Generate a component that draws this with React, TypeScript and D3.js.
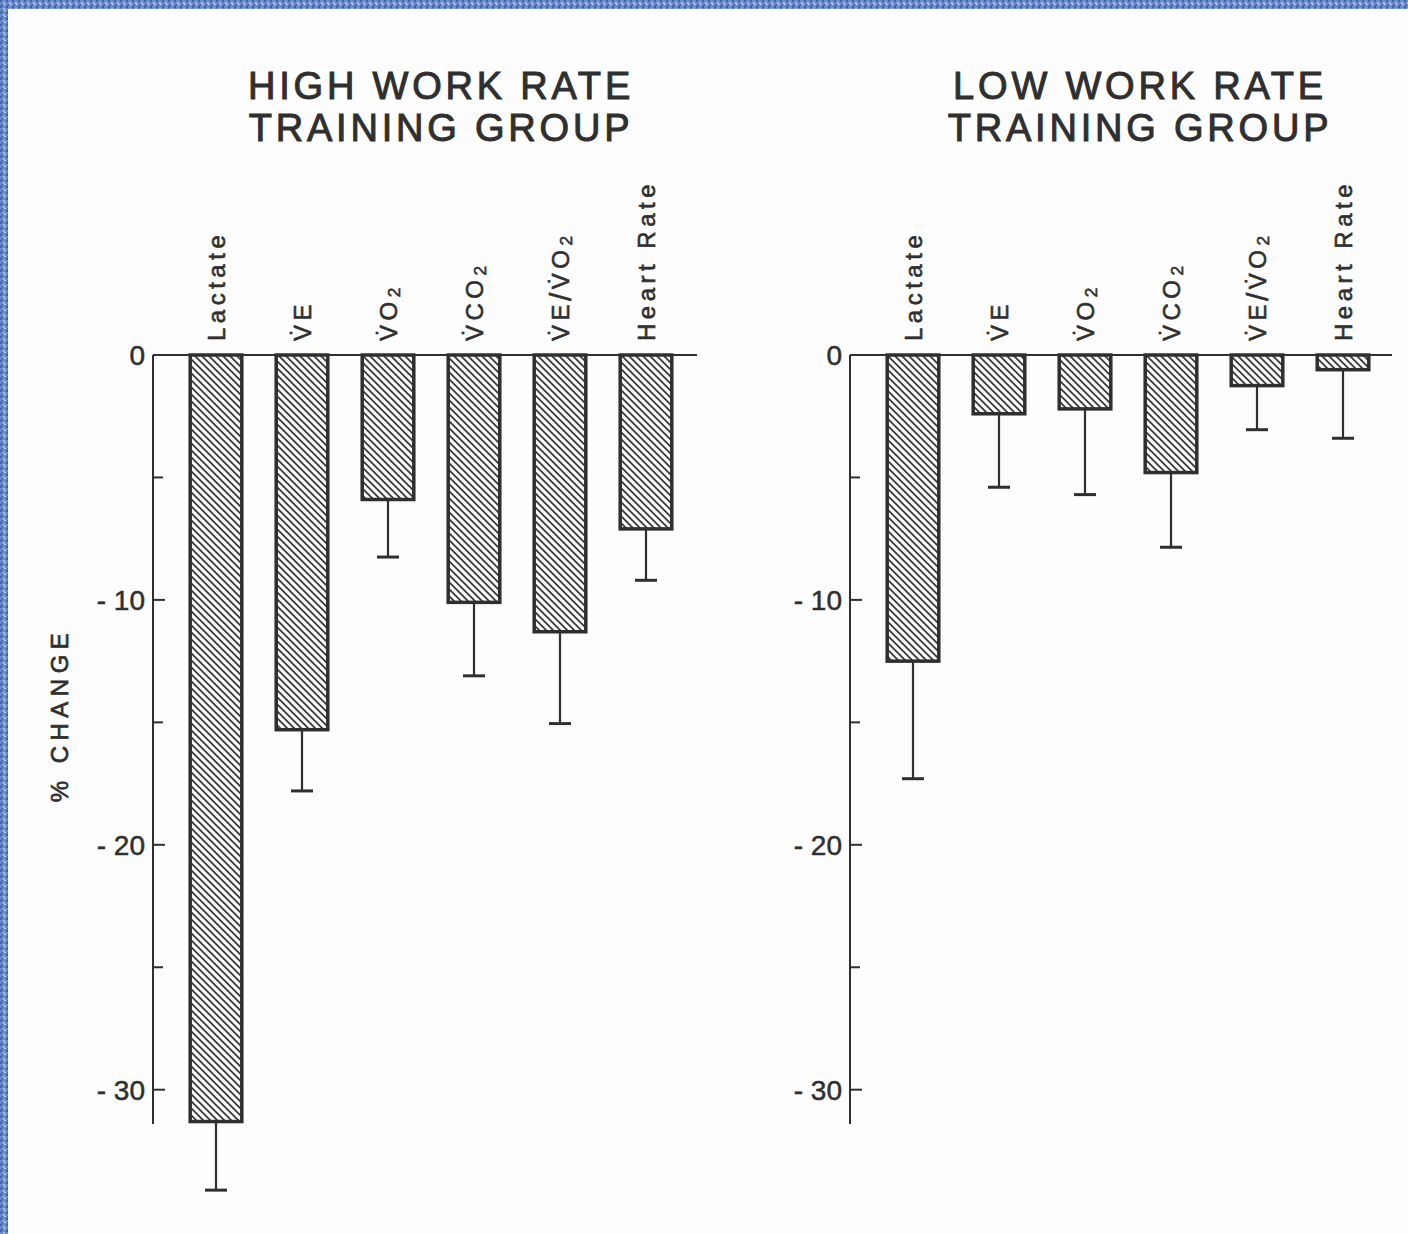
import React from "react";
import * as d3 from "d3";

const categories = ["Lactate", "VE", "VO2", "VCO2", "VE/VO2", "Heart Rate"];
const highValues = [-31.3, -15.3, -5.9, -10.1, -11.3, -7.1];
const highErrors = [2.8, 2.5, 2.35, 3.0, 3.75, 2.1];
const lowValues = [-12.5, -2.4, -2.2, -4.8, -1.25, -0.6];
const lowErrors = [4.8, 3.0, 3.5, 3.05, 1.8, 2.8];
const yTicks = [0, -10, -20, -30];
const yMinorTicks = [-5, -15, -25];
const titlesHigh = ["HIGH WORK RATE", "TRAINING GROUP"];
const titlesLow = ["LOW WORK RATE", "TRAINING GROUP"];

const W = 1408;
const H = 1234;
const INK = "#2f2f2f";
const FONT = "'Liberation Sans', Arial, Helvetica, sans-serif";

const y = d3.scaleLinear().domain([0, -31.4]).range([355, 1124]);

const thick = { stroke: INK, strokeWidth: 0.7 };

function Label({ cat }: { cat: string }) {
  const sub = (s: string) => (
    <tspan fontSize="0.72em" dy="0.2em">{s}</tspan>
  );
  if (cat === "VE") return <>{"V\u0307E"}</>;
  if (cat === "VO2") return <>{"V\u0307O"}{sub("2")}</>;
  if (cat === "VCO2") return <>{"V\u0307CO"}{sub("2")}</>;
  if (cat === "VE/VO2")
    return (
      <>
        {"V\u0307E"}
        <tspan fontSize="1.25em" dx="-1" dy="0.08em">/</tspan>
        <tspan dx="-1" dy="-0.1em">{"V\u0307O"}</tspan>
        {sub("2")}
      </>
    );
  return <>{cat}</>;
}

function Panel({
  axisX,
  r0,
  lineEnd,
  values,
  errors,
  titleX,
  titles,
  showYLabel,
}: {
  axisX: number;
  r0: number;
  lineEnd: number;
  values: number[];
  errors: number[];
  titleX: number;
  titles: string[];
  showYLabel: boolean;
}) {
  const x = d3
    .scaleBand<string>()
    .domain(categories)
    .range([r0, r0 + 516])
    .paddingInner(0.4)
    .paddingOuter(0.2);
  const bw = x.bandwidth();
  return (
    <g>
      {titles.map((t, i) => (
        <text
          key={t + i}
          x={titleX}
          y={99 + i * 42}
          textAnchor="middle"
          fontFamily={FONT}
          fontSize={38}
          letterSpacing={3.8}
          fill={INK}
          {...thick}
          strokeWidth={1}
        >
          {t}
        </text>
      ))}
      {showYLabel && (
        <text
          transform={`translate(68,${715}) rotate(-90)`}
          textAnchor="middle"
          fontFamily={FONT}
          fontSize={24}
          letterSpacing={5.5}
          fill={INK}
          {...thick}
        >
          % CHANGE
        </text>
      )}
      {categories.map((c, i) => {
        const v = values[i];
        const x0 = x(c)!;
        const yTop = y(0);
        const yBot = y(v);
        const cx = x0 + bw / 2;
        const yErr = y(v - errors[i]);
        return (
          <g key={c}>
            <line x1={cx} x2={cx} y1={yBot} y2={yErr} stroke={INK} strokeWidth={2.2} />
            <line x1={cx - 11} x2={cx + 11} y1={yErr} y2={yErr} stroke={INK} strokeWidth={3} />
            <rect
              x={x0}
              y={yTop}
              width={bw}
              height={yBot - yTop}
              fill="url(#hatch)"
              stroke={INK}
              strokeWidth={3.5}
            />
          </g>
        );
      })}
      <line x1={axisX} x2={axisX} y1={y(0)} y2={y(-31.4)} stroke={INK} strokeWidth={2} />
      <line x1={axisX} x2={lineEnd} y1={y(0)} y2={y(0)} stroke={INK} strokeWidth={2} />
      {yTicks.map((t) => (
        <g key={t}>
          {t !== 0 && (
            <line x1={axisX} x2={axisX + 12} y1={y(t)} y2={y(t)} stroke={INK} strokeWidth={2} />
          )}
          <text
            x={axisX - 8}
            y={y(t)}
            dy="0.36em"
            textAnchor="end"
            fontFamily={FONT}
            fontSize={28}
            fill={INK}
            {...thick}
            strokeWidth={0.5}
          >
            {t === 0 ? "0" : `- ${Math.abs(t)}`}
          </text>
        </g>
      ))}
      {yMinorTicks.map((t) => (
        <line key={t} x1={axisX} x2={axisX + 10} y1={y(t)} y2={y(t)} stroke={INK} strokeWidth={2} />
      ))}
      {categories.map((c) => {
        const cx = x(c)! + bw / 2;
        return (
          <text
            key={c}
            transform={`translate(${cx},341) rotate(-90)`}
            dy="0.37em"
            textAnchor="start"
            fontFamily={FONT}
            fontSize={24}
            letterSpacing={4.5}
            fill={INK}
            {...thick}
            strokeWidth={0.6}
          >
            <Label cat={c} />
          </text>
        );
      })}
    </g>
  );
}

export default function App() {
  return (
    <svg
      width={W}
      height={H}
      style={{ position: "absolute", left: 0, top: 0, background: "#fdfdfd" }}
    >
      <defs>
        <pattern id="hatch" patternUnits="userSpaceOnUse" width={7} height={7}>
          <rect width={7} height={7} fill="#fafafa" />
          <path d="M-1,-1 L8,8 M-1,6 L1,8 M6,-1 L8,1" stroke="#3a3a3a" strokeWidth={1.8} />
        </pattern>
        <pattern id="frame" patternUnits="userSpaceOnUse" width={6} height={6}>
          <rect width={6} height={6} fill="#6a8ccc" />
          <rect x={0} y={0} width={2} height={2} fill="#3f62a8" />
          <rect x={3} y={2} width={2} height={2} fill="#9fb6e3" />
          <rect x={1} y={4} width={2} height={2} fill="#4e70b4" />
          <rect x={4} y={4} width={2} height={1} fill="#b6c8ec" />
        </pattern>
      </defs>
      <rect width={W} height={H} fill="#fdfdfd" />
      <rect x={0} y={0} width={W} height={9} fill="url(#frame)" />
      <rect x={0} y={0} width={8} height={H} fill="url(#frame)" />
      <Panel
        axisX={153}
        r0={173}
        lineEnd={697}
        values={highValues}
        errors={highErrors}
        titleX={441}
        titles={titlesHigh}
        showYLabel={true}
      />
      <Panel
        axisX={850}
        r0={870}
        lineEnd={1392}
        values={lowValues}
        errors={lowErrors}
        titleX={1140}
        titles={titlesLow}
        showYLabel={false}
      />
    </svg>
  );
}
